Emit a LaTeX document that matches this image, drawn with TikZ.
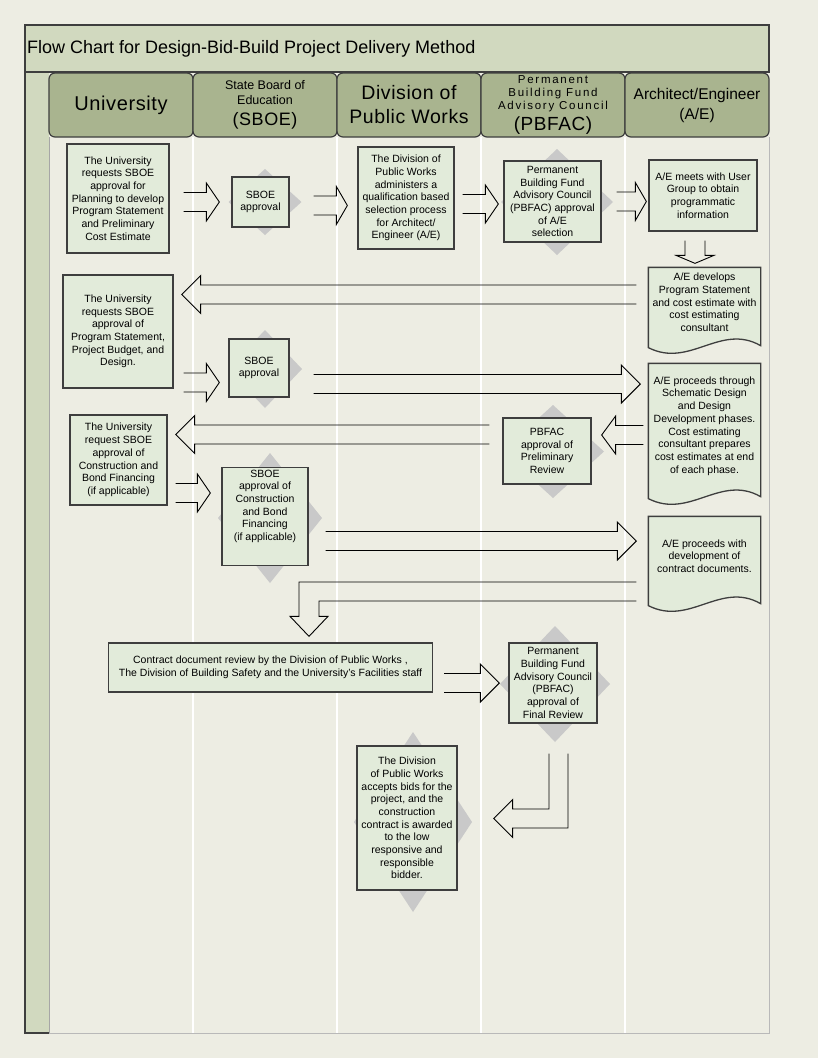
\documentclass[tikz,border=0pt]{standalone}
\usepackage{fontspec}
\setmainfont{Liberation Sans}
\newfontfamily\headfont[LetterSpace=3]{Liberation Sans}
\newfontfamily\spacedfont[LetterSpace=15]{Liberation Sans}
\usetikzlibrary{calc}

\definecolor{pagebg}{RGB}{237,237,227}
\definecolor{sage}{RGB}{209,217,191}
\definecolor{headfill}{RGB}{169,180,143}
\definecolor{boxfill}{RGB}{226,235,218}
\definecolor{boxline}{RGB}{62,62,62}
\definecolor{diamfill}{RGB}{201,201,201}

\pgfdeclarelayer{back}
\pgfdeclarelayer{shade}
\pgfsetlayers{back,shade,main}

% grey diamond behind an approval box: node, dx, dy, half width, half height
\newcommand{\diamshade}[5]{%
  \fill[diamfill] ($(#1)+(#2,#3)$) ++(0,-#5) -- ++(#4,#5) -- ++(-#4,#5) -- ++(-#4,-#5) -- cycle;}

% document outline with wavy bottom round a docbox node
\newcommand{\docshape}[1]{%
  \draw[boxline, line width=1.3pt, fill=boxfill] (#1.north west) -- (#1.north east)
    -- ($(#1.south east)+(0,8)$)
    .. controls ($(#1.south west)!0.64!(#1.south east)+(0,-15)$) and ($(#1.south west)!0.37!(#1.south east)+(0,31)$) ..
    ($(#1.south west)+(0,10)$) -- cycle;}

% hollow block arrows: tail, tip, head length
\newcommand{\rarrow}[3]{%
  \draw[blockarrow] ($(#1 |- #2)+(0,-9.5)$) -- ($(#2)+(-#3,-9.5)$) -- ($(#2)+(-#3,-19)$) -- (#2)
    -- ($(#2)+(-#3,19)$) -- ($(#2)+(-#3,9.5)$) -- ($(#1 |- #2)+(0,9.5)$);}
\newcommand{\larrow}[3]{%
  \draw[blockarrow] ($(#1 |- #2)+(0,-9.5)$) -- ($(#2)+(#3,-9.5)$) -- ($(#2)+(#3,-19)$) -- (#2)
    -- ($(#2)+(#3,19)$) -- ($(#2)+(#3,9.5)$) -- ($(#1 |- #2)+(0,9.5)$);}
\newcommand{\darrow}[3]{%
  \draw[blockarrow] ($(#1 -| #2)+(-10,0)$) -- ($(#2)+(-10,-#3)$) -- ($(#2)+(-19,-#3)$) -- (#2)
    -- ($(#2)+(19,-#3)$) -- ($(#2)+(10,-#3)$) -- ($(#1 -| #2)+(10,0)$);}

\begin{document}
\begin{tikzpicture}[x=1pt, y=-1pt,
  procbox/.style={draw=boxline, line width=1.3pt, fill=boxfill, align=center, inner sep=2pt,
    font=\fontsize{10.5}{12.7}\selectfont},
  docbox/.style={procbox, draw=none, fill=none},
  lanehead/.style={draw=boxline, line width=1.2pt, fill=headfill, rounded corners=6pt,
    minimum width=144pt, minimum height=64pt, align=center, inner sep=0pt},
  blockarrow/.style={draw=black, line width=0.9pt, line join=miter}]

\useasboundingbox (0,0) rectangle (818,1058);

\begin{pgfonlayer}{back}
% draw page and swimlane frame
\fill[pagebg] (0,0) rectangle (818,1058);
\fill[sage] (25,72) rectangle (49,1033);
\foreach \x in {193,337,481,625}
  \draw[white, line width=1.5pt] (\x,137) -- (\x,1033);
\draw[gray!55, line width=1pt] (49,1033) -- (769,1033) -- (769,137);
\draw[gray!70] (49,137) -- (49,1033);
\draw[boxline, line width=1.2pt] (25,72) -- (25,1033) -- (49,1033);
\end{pgfonlayer}

% title bar
\draw[boxline, line width=1.2pt, fill=sage] (25,25) rectangle (769,72);
\node[anchor=west, inner sep=0pt, font=\fontsize{18}{21}\selectfont] (title) at (27,48.5)
  {Flow Chart for Design-Bid-Build Project Delivery Method};

% lane headers
\foreach \x/\nm/\fnt/\txt in {
    49/hduni/{\headfont\fontsize{20}{24}\selectfont}/{University},
    193/hdsboe/{\fontsize{12.5}{15}\selectfont}/{State Board of\\Education\\[6pt]\headfont\fontsize{18}{20}\selectfont (SBOE)},
    337/hddpw/{\headfont\fontsize{19.5}{24}\selectfont}/{Division of\\Public Works},
    481/hdpbf/{\spacedfont\fontsize{11.5}{13}\selectfont}/{Permanent\\Building Fund\\Advisory Council\\[3pt]\headfont\fontsize{19}{20}\selectfont (PBFAC)},
    625/hdae/{\fontsize{15.5}{20}\selectfont}/{Architect/Engineer\\(A/E)}}
  \node[lanehead, font=\fnt] (\nm) at (\x+72,105) {\txt};

% first row
\node[procbox, minimum width=102pt, minimum height=109pt] (uni1) at (118,198.5)
  {The University\\requests SBOE\\approval for\\Planning to develop\\Program Statement\\and Preliminary\\Cost Estimate};
\node[procbox, minimum width=57pt, minimum height=50pt] (sboe1) at (260.5,202) {SBOE\\approval};
\node[procbox, minimum width=96pt, minimum height=102pt] (dpw1) at (406,198)
  {The Division of\\Public Works\\administers a\\qualification based\\selection process\\for Architect/\\Engineer (A/E)};
\node[procbox, minimum width=97pt, minimum height=81pt] (pbf1) at (552.5,201.5)
  {Permanent\\Building Fund\\Advisory Council\\(PBFAC) approval\\of A/E\\selection};
\node[procbox, minimum width=108pt, minimum height=71pt] (ae1) at (703,195.5)
  {A/E meets with User\\Group to obtain\\programmatic\\information};

% second row
\node[docbox, minimum width=111pt, minimum height=69pt] (ae2) at (704.5,302.5)
  {A/E develops\\Program Statement\\and cost estimate with\\cost estimating\\consultant};
\node[procbox, minimum width=110pt, minimum height=113pt] (uni2) at (118,331.5)
  {The University\\requests SBOE\\approval of\\Program Statement,\\Project Budget, and\\Design.};
\node[procbox, minimum width=60pt, minimum height=58pt] (sboe2) at (259,368) {SBOE\\approval};
\node[docbox, minimum width=111pt, minimum height=124pt] (ae3) at (704.5,426)
  {A/E proceeds through\\Schematic Design\\and Design\\Development phases.\\Cost estimating\\consultant prepares\\cost estimates at end\\of each phase.};

% third row
\node[procbox, minimum width=88pt, minimum height=66pt] (pbf2) at (547,451)
  {PBFAC\\approval of\\Preliminary\\Review};
\node[procbox, minimum width=97pt, minimum height=90pt] (uni3) at (118.5,460)
  {The University\\request SBOE\\approval of\\Construction and\\Bond Financing\\(if applicable)};
\node[procbox, minimum width=86pt, minimum height=97pt] (sboe3) at (265,516.5)
  {SBOE\\approval of\\Construction\\and Bond\\Financing\\(if applicable)\\[10pt]};
\node[docbox, minimum width=111pt, minimum height=78pt] (ae4) at (704.5,556)
  {A/E proceeds with\\development of\\contract documents.};

% last rows
\node[procbox, minimum width=324pt, minimum height=49pt] (cdr) at (270.5,667.5)
  {Contract document review by the Division of Public Works ,\\ The Division of Building Safety and the University's Facilities staff};
\node[procbox, minimum width=88pt, minimum height=80pt] (pbf3) at (553,683)
  {Permanent\\Building Fund\\Advisory Council\\(PBFAC)\\approval of\\Final Review};
\node[procbox, minimum width=100pt, minimum height=144pt] (dpw2) at (407,818)
  {The Division\\of Public Works\\accepts bids for the\\project, and the\\construction\\contract is awarded\\to the low\\responsive and\\responsible\\bidder.};

\begin{pgfonlayer}{shade}
% diamonds behind approvals
\diamshade{sboe1}{4.5}{0}{36.5}{33}
\diamshade{sboe2}{6}{1}{37}{39}
\diamshade{sboe3}{5}{1.5}{52}{65}
\diamshade{pbf1}{4.5}{0.5}{56}{53}
\diamshade{pbf2}{6}{0.5}{51}{46.5}
\diamshade{pbf3}{2}{1}{55}{58}
\diamshade{dpw2}{6}{4}{59}{90}
% document outlines
\docshape{ae2}
\docshape{ae3}
\docshape{ae4}
\end{pgfonlayer}

% arrows of first row
\coordinate (a1t) at ($(uni1.east)+(14,0)$);
\coordinate (a1h) at ($(sboe1.west)+(-12,0)$);
\rarrow{a1t}{a1h}{13}
\coordinate (a2t) at ($(sboe1.east)+(24,0)$);
\coordinate (a2h) at ($(dpw1.west)+(-10,7.5)$);
\rarrow{a2t}{a2h}{11}
\coordinate (a3t) at ($(dpw1.east)+(8,0)$);
\coordinate (a3h) at ($(pbf1.west)+(-5,2.5)$);
\rarrow{a3t}{a3h}{13}
\coordinate (a4t) at ($(pbf1.east)+(15,0)$);
\coordinate (a4h) at ($(ae1.west)+(-2,6)$);
\rarrow{a4t}{a4h}{11}
\coordinate (a5t) at ($(ae1.south)+(-8,9)$);
\coordinate (a5h) at ($(ae2.north)+(-9.5,-4)$);
\darrow{a5t}{a5h}{8}

% arrows of second and third row
\coordinate (a6t) at ($(ae2.west)+(-12,0)$);
\coordinate (a6h) at ($(uni2.east)+(8,-37)$);
\larrow{a6t}{a6h}{19}
\coordinate (a7t) at ($(uni2.east)+(10,0)$);
\coordinate (a7h) at ($(sboe2.west)+(-9,14.5)$);
\rarrow{a7t}{a7h}{13}
\coordinate (a8t) at ($(sboe2.east)+(24,0)$);
\coordinate (a8h) at ($(ae3.west)+(-8,-42)$);
\rarrow{a8t}{a8h}{19}
\coordinate (a9t) at ($(ae3.west)+(-5,0)$);
\coordinate (a9h) at ($(pbf2.east)+(10,-16)$);
\larrow{a9t}{a9h}{14}
\coordinate (a10t) at ($(pbf2.west)+(-13,0)$);
\coordinate (a10h) at ($(uni3.east)+(8,-25.5)$);
\larrow{a10t}{a10h}{19}
\coordinate (a11t) at ($(uni3.east)+(8,0)$);
\coordinate (a11h) at ($(sboe3.west)+(-11,-23.5)$);
\rarrow{a11t}{a11h}{13}
\coordinate (a12t) at ($(sboe3.east)+(17,0)$);
\coordinate (a12h) at ($(ae4.west)+(-12,-15)$);
\rarrow{a12t}{a12h}{19}

% contract documents back to review
\coordinate (a13t) at ($(ae4.west)+(-12,35.5)$);
\coordinate (a13h) at ($(cdr.north)+(38.5,-6)$);
\draw[blockarrow] ($(a13t)+(0,-9.5)$) -- ($(a13h |- a13t)+(-10,-9.5)$) -- ($(a13h)+(-10,-20)$)
  -- ($(a13h)+(-19,-20)$) -- (a13h) -- ($(a13h)+(19,-20)$) -- ($(a13h)+(10,-20)$)
  -- ($(a13h |- a13t)+(10,9.5)$) -- ($(a13t)+(0,9.5)$);

\coordinate (a14t) at ($(cdr.east)+(11,0)$);
\coordinate (a14h) at ($(pbf3.west)+(-9,0)$);
\rarrow{a14t}{a14h}{19}

% final review to bids
\coordinate (a15t) at ($(pbf3.south)+(5.5,30)$);
\coordinate (a15h) at ($(dpw2.east)+(36,0.5)$);
\draw[blockarrow] ($(a15t)+(9.5,0)$) -- ($(a15t |- a15h)+(9.5,9.5)$) -- ($(a15h)+(19,9.5)$)
  -- ($(a15h)+(19,19)$) -- (a15h) -- ($(a15h)+(19,-19)$) -- ($(a15h)+(19,-9.5)$)
  -- ($(a15t |- a15h)+(-9.5,-9.5)$) -- ($(a15t)+(-9.5,0)$);

\end{tikzpicture}
\end{document}
